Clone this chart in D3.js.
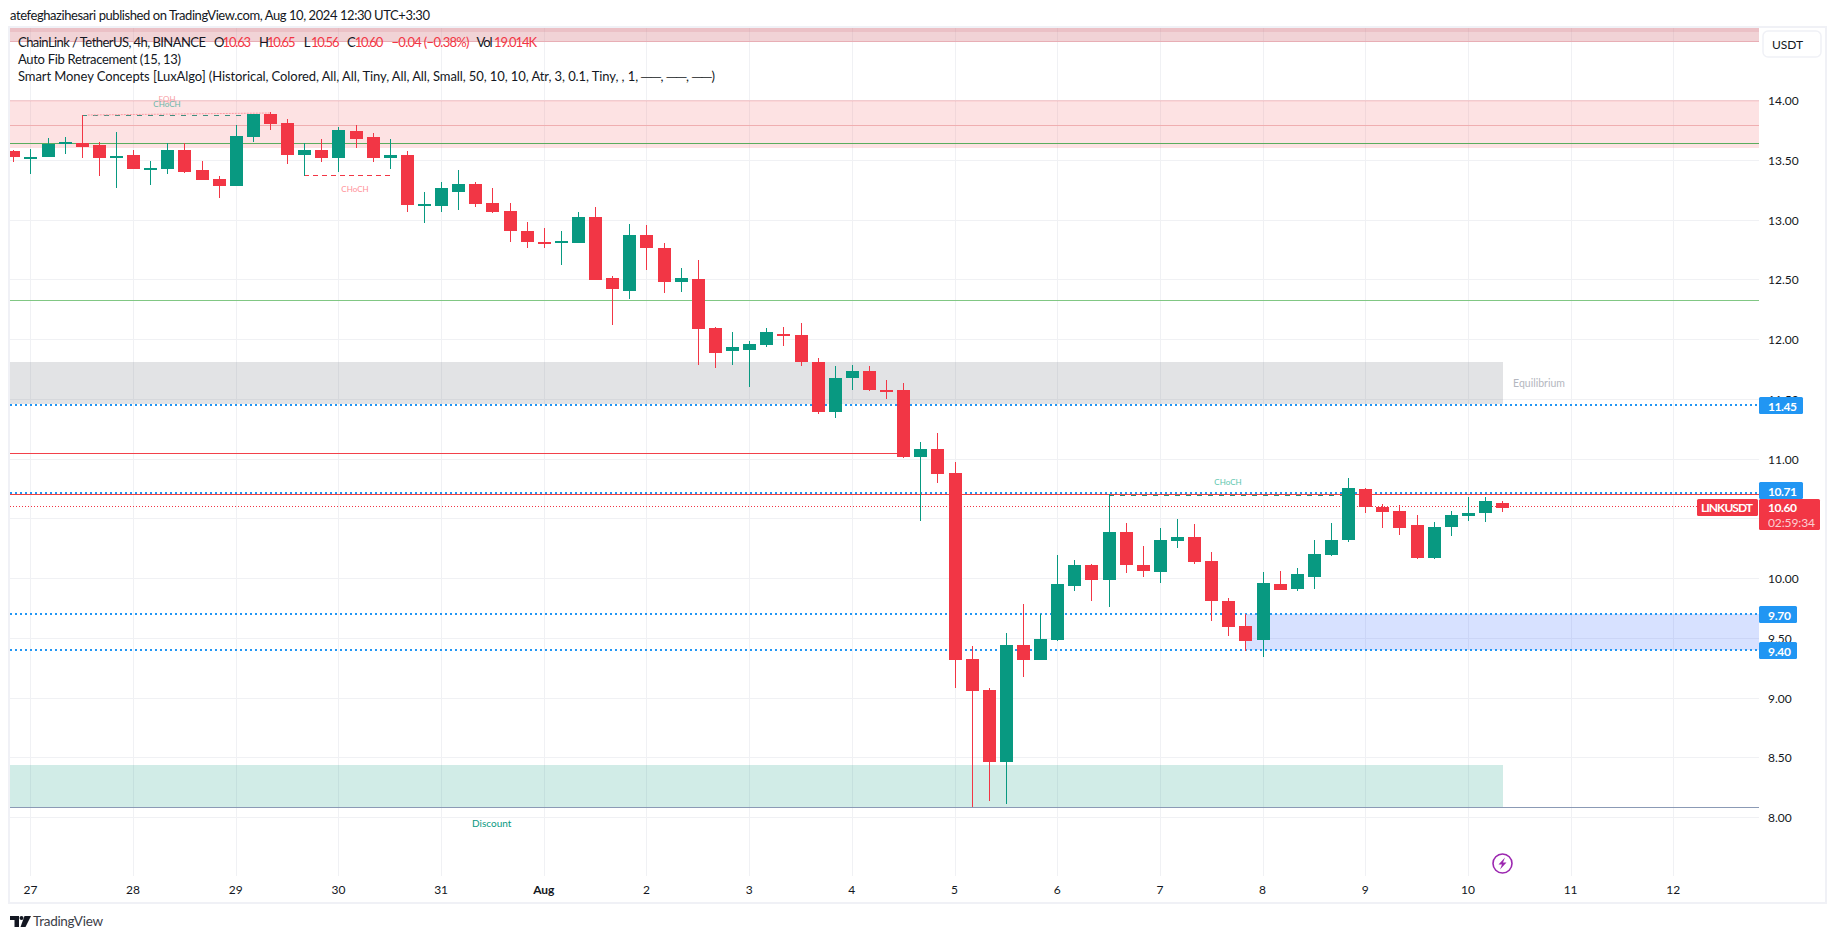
<!DOCTYPE html>
<html><head><meta charset="utf-8">
<script src="https://cdn.jsdelivr.net/npm/d3@7"></script>
<style>html,body{margin:0;padding:0;background:#fff;overflow:hidden}svg{display:block}text{font-family:Lato,"Open Sans",sans-serif}</style>
</head><body><svg id="c" width="1835" height="939"></svg>
<script>
// candles are [open, high, low, close], four-hour bars, first bar is Jul 26 20:00
const ohlc = [
[13.58,13.59,13.49,13.53],[13.52,13.60,13.39,13.53],[13.53,13.69,13.53,13.64],[13.65,13.70,13.56,13.66],
[13.65,13.88,13.52,13.62],[13.63,13.66,13.37,13.52],[13.52,13.74,13.27,13.54],[13.55,13.59,13.43,13.43],
[13.43,13.50,13.30,13.44],[13.43,13.65,13.39,13.59],[13.59,13.65,13.40,13.41],[13.42,13.50,13.34,13.34],
[13.35,13.37,13.19,13.29],[13.29,13.80,13.29,13.71],[13.70,13.89,13.66,13.89],[13.89,13.91,13.76,13.81],
[13.82,13.85,13.47,13.55],[13.55,13.65,13.37,13.59],[13.59,13.68,13.49,13.52],[13.52,13.78,13.41,13.76],
[13.75,13.80,13.61,13.68],[13.70,13.73,13.49,13.52],[13.52,13.68,13.43,13.55],[13.55,13.58,13.07,13.13],
[13.13,13.24,12.98,13.14],[13.12,13.32,13.07,13.27],[13.24,13.42,13.09,13.31],[13.31,13.32,13.11,13.14],
[13.15,13.27,13.06,13.07],[13.08,13.15,12.82,12.91],[12.91,12.99,12.77,12.82],[12.82,12.94,12.77,12.81],
[12.81,12.91,12.63,12.83],[12.81,13.07,12.81,13.03],[13.03,13.11,12.50,12.50],[12.52,12.54,12.13,12.43],
[12.41,12.97,12.34,12.88],[12.88,12.96,12.59,12.77],[12.77,12.81,12.39,12.49],[12.49,12.60,12.40,12.52],
[12.51,12.67,11.79,12.09],[12.10,12.11,11.77,11.89],[11.91,12.07,11.79,11.94],[11.92,11.99,11.61,11.97],
[11.96,12.10,11.94,12.07],[12.05,12.11,11.95,12.04],[12.04,12.14,11.78,11.82],[11.82,11.85,11.38,11.40],
[11.40,11.78,11.35,11.68],[11.68,11.79,11.58,11.74],[11.74,11.78,11.57,11.58],[11.58,11.67,11.51,11.57],
[11.58,11.64,11.01,11.02],[11.02,11.15,10.49,11.09],[11.09,11.22,10.80,10.88],[10.89,10.98,9.09,9.32],
[9.33,9.44,8.09,9.06],[9.07,9.09,8.14,8.47],[8.47,9.55,8.12,9.45],[9.45,9.79,9.18,9.32],
[9.32,9.71,9.32,9.50],[9.49,10.20,9.48,9.96],[9.94,10.16,9.90,10.12],[10.12,10.13,9.82,9.99],
[9.99,10.71,9.77,10.39],[10.39,10.47,10.05,10.12],[10.12,10.28,10.02,10.07],[10.06,10.43,9.97,10.33],
[10.32,10.50,10.26,10.35],[10.35,10.46,10.13,10.14],[10.15,10.23,9.65,9.82],[9.82,9.84,9.52,9.60],
[9.61,9.71,9.40,9.48],[9.49,10.06,9.35,9.97],[9.96,10.07,9.91,9.91],[9.92,10.09,9.90,10.04],
[10.02,10.33,9.92,10.21],[10.20,10.47,10.19,10.33],[10.33,10.85,10.31,10.76],[10.75,10.76,10.55,10.60],
[10.60,10.63,10.43,10.56],[10.57,10.62,10.37,10.43],[10.45,10.54,10.17,10.18],[10.18,10.48,10.17,10.44],
[10.44,10.57,10.36,10.54],[10.53,10.69,10.49,10.55],[10.55,10.69,10.48,10.65],[10.635,10.65,10.56,10.595]
];
const dayLabels = ["27","28","29","30","31","Aug","2","3","4","5","6","7","8","9","10","11","12"];
const priceTicks = ["14.00","13.50","13.00","12.50","12.00","11.50","11.00","10.50","10.00","9.50","9.00","8.50","8.00"];
const blueLevels = [11.45,10.71,9.70,9.40];
const lastPrice = 10.60;
const zoneTops = [14.61,14.61,14.01,14.01,11.82,8.444];
const zoneBottoms = [14.495,14.58,13.61,13.99,11.465,8.085];
const levelPrices = [14.495,13.795,13.645,12.33,11.05,8.085];
const structurePrices = [13.88,13.38,10.70];
const legendTexts = ["ChainLink / TetherUS, 4h, BINANCE","O","10.63","H","10.65","L","10.56","C","10.60","\u22120.04 (\u22120.38%)","Vol","19.014K"];
const legend2 = "Auto Fib Retracement (15, 13)";
const legend3 = "Smart Money Concepts [LuxAlgo] (Historical, Colored, All, All, Tiny, All, All, Small, 50, 10, 10, Atr, 3, 0.1, Tiny, , 1, \u2500\u2500, \u2500\u2500, \u2500\u2500)";
const header = "atefeghazihesari published on TradingView.com, Aug 10, 2024 12:30 UTC+3:30";
const smallLabels = ["EQH","CHoCH","CHoCH","CHoCH","Discount","Equilibrium"];

// layout and style
const firstBar = -1;
const zoneStyle = [["#d8868e",.36,"r"],["#d8868e",.22,"r"],["#f77c80",.22,"r"],["#f77c80",.12,"r"],["#787b86",.21,"e"],["#089981",.19,"e"]];
const levelStyle = [["#e8aeb5",1759],["#f0aeb0",1759],["#5aad5e",1759],["#81c784",1759],["#f2404a",903],["#8b9ab5",1759]];
const legendX = [18,214,222.6,259,267,303.7,311,347,354.7,391.5,476.5,494];
const legendW = [188,8,28.5,8,28.5,6,28.5,7,28.5,78,16,43];
const legendC = [0,0,1,0,1,0,1,0,1,1,0,1].map(r=>r?"#f23645":"#131722");
const structStyle = [[3,13,"#3f8f80","5 6"],[16,21,"#f23645","5 4"],[63,77,"#2a8f7c","5 6"]];
const smallStyle = [[167,99,"#f7a0a6",8],[167,103.5,"#6ab6a8",8],[355,188.5,"#ff8f98",8],[1228,482,"#5cc6ad",8],[491.7,822.7,"#089981",10],[1539,382.5,"#b4b7c0",10.5]];

const svg = d3.select("#c");
const L=10,R=1759,T=28,B=876;
const up="#089981",dn="#f23645";
const y = d3.scaleLinear().domain([8,14]).range([818.1,101.1]);
const x = d3.scaleLinear().domain([0,16*6]).range([30.4,1673.3]);
const Y = p=>Math.round(y(p));
const plot = svg.append("g");
svg.append("clipPath").attr("id","pc").append("rect").attr("x",L).attr("y",T).attr("width",R-L).attr("height",B-T);
plot.attr("clip-path","url(#pc)").attr("shape-rendering","crispEdges");

// frame
svg.insert("rect",":first-child").attr("x",9).attr("y",27).attr("width",1817).attr("height",876).attr("fill","#fff").attr("stroke","#f0f1f6").attr("stroke-width",2);

// grid
plot.selectAll(".gv").data(dayLabels).join("line").attr("x1",(d,i)=>Math.round(x(i*6))+.5).attr("x2",(d,i)=>Math.round(x(i*6))+.5).attr("y1",T).attr("y2",B).attr("stroke","#f0f1f4");
plot.selectAll(".gh").data(priceTicks).join("line").attr("x1",L).attr("x2",R).attr("y1",d=>Y(+d)-.5).attr("y2",d=>Y(+d)-.5).attr("stroke","#f0f1f4");

// zones
const zoneEnd = {r:R,e:1503};
plot.selectAll(".z").data(zoneTops).join("rect").attr("x",L).attr("width",(d,i)=>zoneEnd[zoneStyle[i][2]]-L).attr("y",d=>Y(d)).attr("height",(d,i)=>Y(zoneBottoms[i])-Y(d)).attr("fill",(d,i)=>zoneStyle[i][0]).attr("opacity",(d,i)=>zoneStyle[i][1]);
// order block
plot.append("rect").attr("x",x(71)).attr("width",R-x(71)).attr("y",Y(9.70)-1).attr("height",Y(9.40)-Y(9.70)).attr("fill","#2962ff").attr("opacity",.19);

// blue dotted levels
plot.selectAll(".bl").data(blueLevels).join("line").attr("x1",L).attr("x2",R).attr("y1",d=>Y(d)-1).attr("y2",d=>Y(d)-1).attr("stroke","#2196f3").attr("stroke-width",2).attr("stroke-dasharray","2 3");
// horizontal levels
plot.selectAll(".lv").data(levelPrices).join("line").attr("x1",L).attr("x2",(d,i)=>levelStyle[i][1]).attr("y1",d=>Y(d)-.5).attr("y2",d=>Y(d)-.5).attr("stroke",(d,i)=>levelStyle[i][0]);
plot.append("line").attr("x1",L).attr("x2",R).attr("y1",Y(10.71)+.5).attr("y2",Y(10.71)+.5).attr("stroke","#f2403f");
// last price dotted
plot.append("line").attr("x1",L).attr("x2",R).attr("y1",Y(lastPrice)-.5).attr("y2",Y(lastPrice)-.5).attr("stroke",dn).attr("stroke-dasharray","1 2");

// structure lines
plot.selectAll(".sm").data(structurePrices).join("line").attr("x1",(d,i)=>x(structStyle[i][0])).attr("x2",(d,i)=>x(structStyle[i][1])).attr("y1",d=>Y(d)+.5).attr("y2",d=>Y(d)+.5).attr("stroke",(d,i)=>structStyle[i][2]).attr("stroke-dasharray",(d,i)=>structStyle[i][3]);
plot.append("line").attr("x1",x(3)+6).attr("x2",x(14)).attr("y1",Y(13.88)).attr("y2",Y(13.90)).attr("stroke","#ff9aa2").attr("stroke-dasharray","2 1").attr("shape-rendering","auto");

// candles
const c = plot.selectAll(".c").data(ohlc).join("g").attr("fill",d=>d[3]>=d[0]?up:dn).attr("stroke",d=>d[3]>=d[0]?up:dn);
const bx = (d,i)=>Math.round(x(i+firstBar));
c.append("line").attr("x1",(d,i)=>bx(d,i)+.5).attr("x2",(d,i)=>bx(d,i)+.5).attr("y1",d=>Y(d[1])).attr("y2",d=>Y(d[2]));
c.append("rect").attr("stroke","none").attr("x",(d,i)=>bx(d,i)-6).attr("width",13)
 .attr("y",d=>Y(Math.max(d[0],d[3]))).attr("height",d=>Math.max(2,Y(Math.min(d[0],d[3]))-Y(Math.max(d[0],d[3]))));

// small labels
svg.selectAll(".sl").data(smallLabels).join("text").text(d=>d).attr("x",(d,i)=>smallStyle[i][0]).attr("y",(d,i)=>smallStyle[i][1]).attr("fill",(d,i)=>smallStyle[i][2]).attr("font-size",(d,i)=>smallStyle[i][3]).attr("text-anchor","middle").attr("dominant-baseline","central");

// axes
svg.selectAll(".dl").data(dayLabels).join("text").text(d=>d).attr("x",(d,i)=>x(i*6)).attr("y",889).attr("text-anchor","middle").attr("dominant-baseline","central").attr("font-size",12).attr("fill","#131722").attr("font-weight",d=>d==="Aug"?700:400);
svg.selectAll(".pl").data(priceTicks).join("text").text(d=>d).attr("x",1768).attr("y",d=>Y(+d)-.5).attr("dominant-baseline","central").attr("font-size",12).attr("fill","#131722");

// price tags
const tag=(x0,x1,y0,y1,f)=>svg.append("rect").attr("x",x0).attr("y",y0).attr("width",x1-x0).attr("height",y1-y0).attr("fill",f).attr("rx",1.5);
const tagX=[1803,1803,1797,1797], tagDy=[0,-3,0,0], tagW=[29,29,23,23];
blueLevels.forEach((p,i)=>{const py=Y(p)+tagDy[i];tag(1759,tagX[i],py-9,py+8,"#2196f3");
 svg.append("text").text(p.toFixed(2)).attr("x",1768).attr("y",py).attr("dominant-baseline","central").attr("font-size",12).attr("font-weight",700).attr("fill","#fff").attr("textLength",tagW[i]);});
tag(1697,1758,499,516,dn);tag(1759,1820,499,530,dn);
svg.append("text").text("LINKUSDT").attr("x",1701).attr("y",507.5).attr("dominant-baseline","central").attr("font-size",12).attr("font-weight",700).attr("fill","#fff").attr("textLength",52);
svg.append("text").text(lastPrice.toFixed(2)).attr("x",1768).attr("y",507.5).attr("dominant-baseline","central").attr("font-size",12).attr("font-weight",700).attr("fill","#fff").attr("textLength",29);
svg.append("text").text("02:59:34").attr("x",1768).attr("y",522).attr("dominant-baseline","central").attr("font-size",12).attr("fill","#fff").attr("opacity",.75).attr("textLength",47);

// USDT button
svg.append("rect").attr("x",1763).attr("y",31).attr("width",58).attr("height",26).attr("rx",5).attr("fill","#fff").attr("stroke","#f0f1f6").attr("stroke-width",1.5);
svg.append("text").text("USDT").attr("x",1772).attr("y",44).attr("dominant-baseline","central").attr("font-size",12).attr("fill","#131722");

// legend
svg.append("text").text(header).attr("x",10).attr("y",15).attr("dominant-baseline","central").attr("font-size",13).attr("fill","#131722").attr("textLength",420);
svg.selectAll(".lg").data(legendTexts).join("text").text(d=>d).attr("x",(d,i)=>legendX[i]).attr("y",41.5).attr("dominant-baseline","central").attr("font-size",13).attr("fill",(d,i)=>legendC[i]).attr("textLength",(d,i)=>legendW[i]);
svg.append("text").text(legend2).attr("x",18).attr("y",58.5).attr("dominant-baseline","central").attr("font-size",13).attr("fill","#131722").attr("textLength",163);
svg.append("text").text(legend3).attr("x",18).attr("y",75.5).attr("dominant-baseline","central").attr("font-size",13).attr("fill","#131722").attr("textLength",697);

// lightning badge
const bolt = svg.append("g").attr("transform","translate(1502.5,863.5)");
bolt.append("circle").attr("r",9.5).attr("fill","#fff").attr("stroke","#9c27b0").attr("stroke-width",1.6);
bolt.append("path").attr("d","M2.5,-6 L-4,1 L-0.5,1 L-2.5,6 L4,-1 L0.5,-1 Z").attr("fill","#9c27b0");

// logo
const lg = svg.append("g").attr("transform","translate(10,915)").attr("fill","#131722");
lg.append("path").attr("d","M0,1 H9 V12 H4.5 V5 H0 Z");
lg.append("circle").attr("cx",11.5).attr("cy",3).attr("r",2);
lg.append("path").attr("d","M14.5,1 H21 L15.5,12 H10.5 Z");
svg.append("text").text("TradingView").attr("x",33).attr("y",921).attr("dominant-baseline","central").attr("font-size",13.5).attr("fill","#3c4048").attr("textLength",70);
</script></body></html>
